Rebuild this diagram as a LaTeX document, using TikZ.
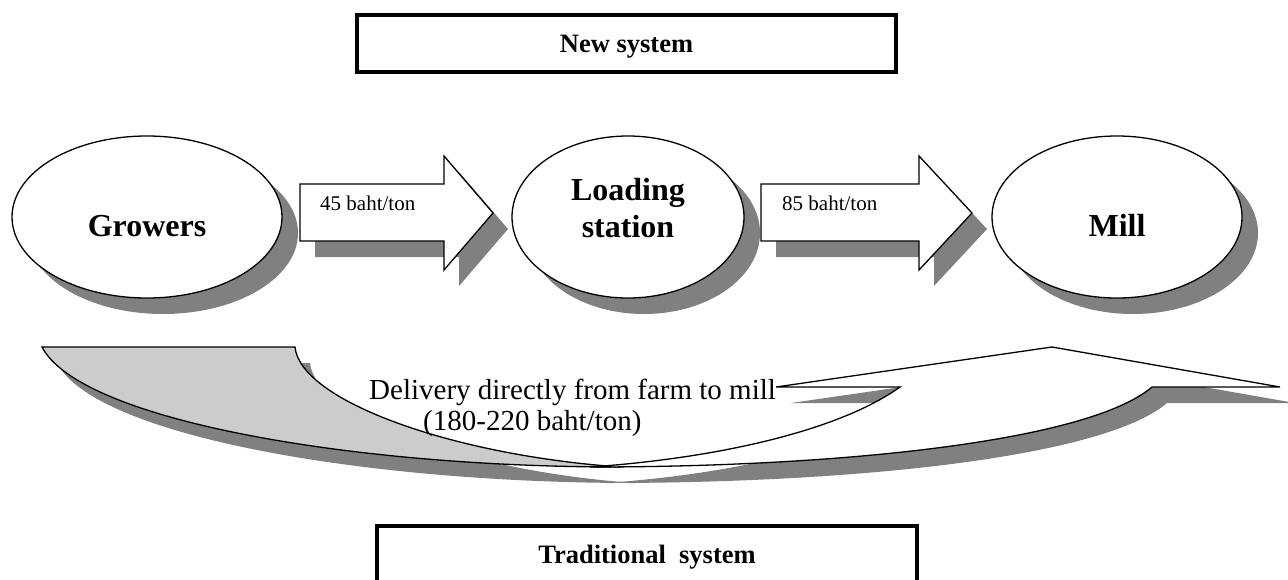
\documentclass[tikz,border=0pt]{standalone}
\usepackage{fontspec}
\setmainfont{Liberation Serif}
\usetikzlibrary{shapes.geometric}
\definecolor{shadowgray}{HTML}{808080}
\definecolor{backgray}{HTML}{CCCCCC}
\tikzset{
  outline/.style={draw=black, line width=1.3pt, line join=miter},
  ellnode/.style={ellipse, draw=black, line width=1.3pt, fill=white, inner sep=0pt},
  ellshadow/.style={ellipse, fill=shadowgray, draw=none, inner sep=0pt},
  sysbox/.style={draw=black, line width=3.4pt, fill=white},
  bigtxt/.style={font=\fontsize{32}{37}\selectfont\bfseries, inner sep=0pt, anchor=base},
  systxt/.style={font=\fontsize{26.5}{30}\selectfont\bfseries, anchor=base, inner sep=0pt},
  costtxt/.style={font=\fontsize{21}{25}\selectfont, anchor=base west, inner sep=0pt},
  deltxt/.style={font=\fontsize{29}{31}\selectfont, anchor=base west, inner sep=0pt}
}
\begin{document}
\begin{tikzpicture}[x=1pt,y=-1pt]
\useasboundingbox (0,0) rectangle (1288,579);
\clip (0,0) rectangle (1288,579);
\fill[white] (0,0) rectangle (1288,579);

% ---------- shadows ----------
\begin{scope}[shift={(15,16)}]
  \fill[shadowgray] (42,347) -- (295,347) .. controls (300,400) and (450,455) .. (620,467)
        .. controls (350,467) and (80,420) .. (42,347) -- cycle;
  \fill[shadowgray] (590,467) .. controls (720,458) and (840,430) .. (900,387) -- (776,387)
        -- (1052,347) -- (1280,387) -- (1152,387) .. controls (1090,440) and (850,467) .. (590,467) -- cycle;
  \fill[shadowgray] (300,184) -- (444,184) -- (444,156) -- (493,213) -- (444,270) -- (444,241) -- (300,241) -- cycle;
  \fill[shadowgray] (761,184) -- (919,184) -- (919,156) -- (972,213) -- (919,270) -- (919,241) -- (761,241) -- cycle;
\end{scope}
\node[ellshadow, minimum width=270pt, minimum height=162pt] (sg) at (163,233) {};
\node[ellshadow, minimum width=232pt, minimum height=162pt] (sl) at (644,233) {};
\node[ellshadow, minimum width=250pt, minimum height=162pt] (sm) at (1133,233) {};

% ---------- curved arrow (traditional delivery) ----------
\filldraw[outline, fill=backgray] (42,347) -- (295,347) .. controls (300,400) and (450,455) .. (620,467)
      .. controls (350,467) and (80,420) .. (42,347) -- cycle;
\filldraw[outline, fill=white] (590,467) .. controls (720,458) and (840,430) .. (900,387) -- (776,387)
      -- (1052,347) -- (1280,387) -- (1152,387) .. controls (1090,440) and (850,467) .. (590,467) -- cycle;

% ---------- block arrows ----------
\filldraw[outline, fill=white] (300,184) -- (444,184) -- (444,156) -- (493,213) -- (444,270) -- (444,241) -- (300,241) -- cycle;
\filldraw[outline, fill=white] (761,184) -- (919,184) -- (919,156) -- (972,213) -- (919,270) -- (919,241) -- (761,241) -- cycle;

% ---------- ellipses ----------
\node[ellnode, minimum width=270pt, minimum height=162pt] (growers) at (147,217) {};
\node[ellnode, minimum width=232pt, minimum height=162pt] (loading) at (628,217) {};
\node[ellnode, minimum width=250pt, minimum height=162pt] (mill) at (1117,217) {};

\node[bigtxt] (tg) at (147,236) {Growers};
\node[bigtxt] (tl1) at (628,200) {Loading};
\node[bigtxt] (tl2) at (628,237) {station};
\node[bigtxt] (tm) at (1117,236) {Mill};

\node[costtxt] (c45) at (320,210) {45 baht/ton};
\node[costtxt] (c85) at (782,210) {85 baht/ton};

\node[deltxt] (d1) at (369,399) {Delivery directly from farm to mill};
\node[deltxt] (d2) at (423,430) {(180-220 baht/ton)};

% ---------- system boxes ----------
\draw[sysbox] (357,15) rectangle (896,72);
\node[systxt] (newsys) at (626.5,52) {New system};
\draw[sysbox] (377,526) rectangle (917,600);
\node[systxt] (tradsys) at (647,563) {Traditional\ \ system};
\end{tikzpicture}
\end{document}
